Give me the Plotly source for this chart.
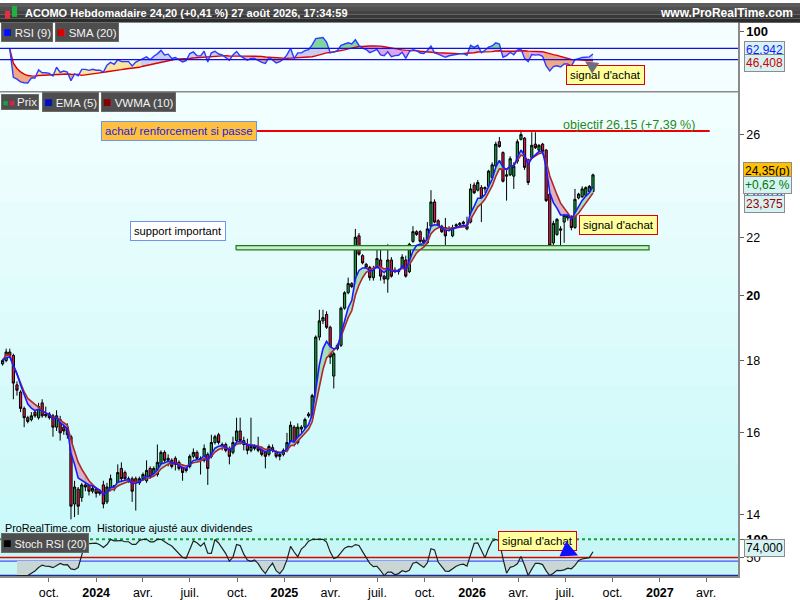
import numpy as np
import pandas as pd
import plotly.graph_objects as go

# ---------------- data (weekly candles, ACOMO) ----------------
start_week = "2023-07-03"
opens = [17.90, 18.00, 18.25, 18.15, 17.30, 17.10, 16.65, 16.40, 16.35, 16.55,
         16.40, 16.80, 16.50, 16.50, 16.45, 16.15, 16.35, 16.15, 16.15, 15.90,
         14.25, 14.60, 14.40, 14.65, 14.70, 14.55, 14.60, 14.55, 14.70, 14.30,
         14.60, 14.60, 14.70, 15.10, 15.00, 14.80, 14.85, 14.85, 14.75, 14.85,
         14.80, 15.10, 14.95, 14.95, 15.20, 15.50, 15.30, 15.30, 15.35, 15.25,
         15.15, 15.10, 15.15, 15.40, 15.50, 15.30, 15.30, 15.45, 15.40, 15.75,
         15.95, 15.65, 15.70, 15.60, 15.50, 15.80, 16.05, 15.80, 15.70, 15.55,
         15.60, 15.65, 15.60, 15.50, 15.45, 15.62, 15.50, 15.40, 15.45, 15.55,
         15.75, 16.15, 15.75, 16.10, 16.15, 16.50, 16.40, 17.00, 18.70, 19.20,
         19.40, 19.00, 17.55, 18.35, 18.45, 19.60, 20.10, 20.40, 20.40, 22.05,
         21.35, 21.05, 20.95, 20.60, 20.95, 21.20, 20.65, 20.55, 21.20, 20.85,
         20.80, 20.95, 21.20, 20.80, 21.85, 22.20, 22.20, 21.90, 21.80, 22.40,
         23.30, 22.60, 22.40, 22.35, 22.30, 22.05, 22.40, 22.45, 22.55, 22.30,
         22.55, 23.95, 23.75, 23.85, 23.80, 23.90, 24.25, 24.70, 25.70, 25.25,
         24.30, 24.35, 24.30, 24.90, 25.80, 25.85, 24.95, 25.05, 25.60, 25.35,
         25.60, 25.35, 23.60, 21.80, 22.10, 22.25, 22.55, 22.70, 22.75, 22.35,
         23.45, 23.50, 23.55, 23.70, 23.70]
highs = [18.05, 18.35, 18.35, 18.20, 17.40, 17.15, 16.70, 16.45, 16.55, 16.65,
         16.80, 16.90, 16.70, 16.55, 16.50, 16.60, 16.45, 16.25, 16.25, 15.95,
         14.80, 14.65, 14.75, 14.90, 14.75, 14.70, 14.65, 14.60, 14.80, 14.75,
         14.95, 14.70, 15.20, 15.25, 15.05, 14.90, 14.90, 14.90, 14.90, 15.00,
         15.30, 15.15, 15.15, 15.70, 15.55, 15.55, 15.45, 15.35, 15.40, 15.30,
         15.20, 15.15, 15.45, 15.60, 15.55, 15.40, 15.70, 15.50, 15.95, 15.95,
         16.00, 15.75, 15.75, 15.65, 15.90, 16.40, 16.40, 15.90, 15.85, 16.40,
         15.70, 15.90, 15.65, 15.55, 15.70, 15.70, 15.55, 15.50, 15.60, 16.00,
         16.30, 16.20, 16.25, 16.20, 16.40, 16.55, 17.05, 18.75, 19.55, 19.55,
         19.50, 19.05, 18.25, 18.50, 19.65, 20.15, 20.60, 20.45, 22.30, 22.15,
         21.40, 21.10, 21.00, 21.00, 21.60, 21.60, 20.70, 21.75, 21.30, 20.95,
         20.90, 21.40, 21.35, 21.80, 22.40, 22.25, 22.25, 22.00, 22.55, 23.75,
         23.40, 22.65, 22.45, 22.70, 22.40, 22.45, 22.50, 22.55, 22.60, 22.75,
         24.00, 24.05, 24.15, 23.95, 23.90, 24.55, 24.85, 25.70, 25.90, 25.30,
         24.60, 25.10, 24.85, 25.80, 26.20, 25.90, 25.00, 26.10, 26.10, 25.60,
         25.65, 25.40, 23.70, 22.60, 22.70, 22.40, 22.90, 22.85, 22.80, 23.80,
         23.65, 23.90, 23.90, 23.95, 24.40]
lows = [17.85, 17.95, 18.10, 16.90, 17.00, 16.55, 16.15, 16.25, 16.30, 16.40,
        16.35, 16.40, 16.40, 16.35, 15.90, 16.05, 15.80, 15.95, 15.85, 13.90,
        13.95, 14.00, 14.30, 14.55, 14.45, 14.50, 14.40, 14.45, 14.15, 14.25,
        14.55, 14.55, 14.65, 14.75, 14.80, 14.75, 14.30, 14.10, 14.70, 14.80,
        14.75, 14.85, 14.90, 14.90, 15.15, 15.25, 15.15, 15.10, 15.05, 15.05,
        14.80, 15.00, 15.10, 15.35, 15.25, 14.95, 15.25, 14.70, 15.35, 15.70,
        15.70, 15.55, 15.50, 15.20, 15.45, 15.75, 15.70, 15.55, 15.45, 15.50,
        15.55, 15.50, 15.40, 15.10, 15.40, 15.50, 15.35, 15.30, 15.40, 15.50,
        15.70, 15.65, 15.70, 16.00, 16.10, 16.40, 16.35, 16.95, 18.60, 19.10,
        18.95, 17.90, 17.20, 18.30, 18.40, 19.55, 20.05, 20.25, 20.35, 21.35,
        21.05, 20.90, 20.50, 20.50, 20.90, 20.50, 20.40, 20.10, 20.60, 20.75,
        20.70, 20.90, 20.60, 20.75, 21.80, 22.05, 21.80, 21.75, 21.75, 22.35,
        22.50, 22.35, 22.15, 21.70, 22.20, 22.00, 22.35, 22.40, 22.45, 22.25,
        22.50, 23.60, 23.70, 22.55, 23.65, 23.85, 24.20, 24.65, 25.45, 24.05,
        23.35, 24.30, 23.80, 24.80, 25.75, 24.55, 23.95, 25.00, 25.40, 25.30,
        25.25, 23.30, 21.60, 21.65, 22.05, 21.70, 21.80, 22.60, 22.25, 22.30,
        23.40, 23.45, 23.50, 23.60, 23.65]
closes = [18.00, 18.25, 18.15, 17.35, 17.15, 16.65, 16.40, 16.30, 16.45, 16.45,
          16.70, 16.45, 16.45, 16.40, 16.15, 16.45, 16.00, 16.05, 15.95, 14.20,
          14.65, 14.20, 14.70, 14.70, 14.55, 14.62, 14.50, 14.50, 14.25, 14.65,
          14.85, 14.68, 15.00, 14.85, 14.85, 14.85, 14.55, 14.75, 14.85, 14.95,
          15.05, 14.90, 15.10, 15.25, 15.50, 15.30, 15.35, 15.15, 15.20, 15.10,
          15.00, 15.05, 15.40, 15.50, 15.35, 15.35, 15.60, 15.10, 15.75, 15.90,
          15.75, 15.70, 15.55, 15.40, 15.75, 16.05, 15.80, 15.70, 15.55, 15.65,
          15.65, 15.55, 15.45, 15.40, 15.65, 15.55, 15.40, 15.45, 15.55, 15.75,
          16.20, 15.70, 16.15, 16.15, 16.35, 16.45, 17.00, 18.70, 19.20, 19.30,
          19.00, 18.10, 18.20, 18.45, 19.60, 20.10, 20.40, 20.30, 22.00, 21.40,
          21.10, 20.95, 20.60, 20.90, 21.25, 20.65, 20.55, 21.20, 20.65, 20.80,
          20.85, 21.30, 20.65, 21.75, 22.20, 22.10, 21.85, 21.80, 22.30, 23.30,
          22.55, 22.40, 22.20, 22.05, 22.25, 22.35, 22.45, 22.50, 22.50, 22.40,
          23.80, 23.65, 24.05, 23.45, 23.85, 24.50, 24.75, 25.60, 25.50, 24.10,
          24.35, 25.00, 24.70, 25.70, 26.00, 24.65, 24.05, 25.55, 25.45, 25.55,
          25.30, 23.35, 21.70, 22.50, 22.65, 22.30, 22.80, 22.80, 22.35, 23.40,
          23.60, 23.80, 23.85, 23.90, 24.35]

objective_level = 26.15
objective_span = ["2024-10-30", "2027-04-08"]
support_band = [21.55, 21.70]
support_span = ["2024-09-29", "2026-12-11"]
rsi_levels = [70, 50]
stoch_levels = [100, 50, 40, 0]
x_range = ["2023-06-28", "2027-06-02"]
tick_dates = ["2023-10-01", "2024-01-01", "2024-04-01", "2024-07-01", "2024-10-01",
              "2025-01-01", "2025-04-01", "2025-07-01", "2025-10-01", "2026-01-01",
              "2026-04-01", "2026-07-01", "2026-10-01", "2027-01-01", "2027-04-01"]
tick_text = ["oct.", "<b>2024</b>", "avr.", "juil.", "oct.", "<b>2025</b>", "avr.",
             "juil.", "oct.", "<b>2026</b>", "avr.", "juil.", "oct.", "<b>2027</b>", "avr."]
price_ticks = [14, 16, 18, 20, 22, 26]
price_tick_text = ["14", "16", "18", "<b>20</b>", "22", "26"]

n = min(len(opens), len(highs), len(lows), len(closes))
dates = pd.date_range(start_week, periods=n, freq="7D")
c = pd.Series(closes[:n], dtype=float)

# ---------------- indicators ----------------
ema5 = c.ewm(span=5, adjust=False).mean()
def wma(s, p):
    out = []
    for i in range(len(s)):
        w = s.iloc[max(0, i - p + 1):i + 1].values
        k = np.arange(1, len(w) + 1)
        out.append(float(np.dot(w, k) / k.sum()))
    return pd.Series(out)
wma10 = wma(c, 10)

def rsi(s, p):
    d = s.diff()
    g = d.clip(lower=0)
    l = -d.clip(upper=0)
    ag = g.ewm(alpha=1 / p, adjust=True, min_periods=1).mean()
    al = l.ewm(alpha=1 / p, adjust=True, min_periods=1).mean()
    r = 100 - 100 / (1 + ag / al.replace(0, np.nan))
    r[(al == 0) & (ag > 0)] = 100
    return r
rsi9 = rsi(c, 9)
rsi9.iloc[:2] = np.nan
sma20 = rsi9.rolling(20, min_periods=1).mean()

rsi20 = rsi(c, 14)
rsi20.iloc[:2] = np.nan
lo = rsi20.rolling(20, min_periods=3).min()
hi = rsi20.rolling(20, min_periods=3).max()
stoch = ((rsi20 - lo) / (hi - lo) * 100).rolling(2, min_periods=1).mean()

xn = (dates.values.astype("datetime64[ms]").astype("int64")).astype(float)

def to_date(v):
    return None if v is None else pd.to_datetime(v, unit="ms").strftime("%Y-%m-%d %H:%M")

def band_fill(a, b, colorfn, levels=()):
    a = np.asarray(a, float); b = np.asarray(b, float)
    polys = {}
    st = {"cur": None, "xs": [], "top": [], "bot": []}
    def flush():
        if st["cur"] is not None and len(st["xs"]) > 1:
            P = polys.setdefault(st["cur"], ([], []))
            P[0].extend([to_date(v) for v in st["xs"] + st["xs"][::-1]] + [None])
            P[1].extend(st["top"] + st["bot"][::-1] + [None])
        st["cur"] = None; st["xs"] = []; st["top"] = []; st["bot"] = []
    for i in range(len(a) - 1):
        a0, a1, b0, b1 = a[i], a[i + 1], b[i], b[i + 1]
        if np.isnan([a0, a1, b0, b1]).any():
            flush(); continue
        ts = [0.0, 1.0]
        d0, d1 = a0 - b0, a1 - b1
        if d0 * d1 < 0:
            ts.append(d0 / (d0 - d1))
        for L in levels:
            e0, e1 = a0 - L, a1 - L
            if e0 * e1 < 0:
                ts.append(e0 / (e0 - e1))
        ts = sorted(ts)
        for t0, t1 in zip(ts[:-1], ts[1:]):
            if t1 - t0 < 1e-9:
                continue
            tm = (t0 + t1) / 2
            col = colorfn(a0 + (a1 - a0) * tm, b0 + (b1 - b0) * tm)
            p0 = (xn[i] + (xn[i + 1] - xn[i]) * t0, a0 + (a1 - a0) * t0, b0 + (b1 - b0) * t0)
            p1 = (xn[i] + (xn[i + 1] - xn[i]) * t1, a0 + (a1 - a0) * t1, b0 + (b1 - b0) * t1)
            if col != st["cur"]:
                flush()
                st["cur"] = col
                st["xs"] = [p0[0]]; st["top"] = [p0[1]]; st["bot"] = [p0[2]]
            st["xs"].append(p1[0]); st["top"].append(p1[1]); st["bot"].append(p1[2])
    flush()
    return polys

fig = go.Figure()

def add_polys(polys, xa, ya):
    for col, (xs, ys) in polys.items():
        fig.add_trace(go.Scatter(x=xs, y=ys, mode="lines", fill="toself", fillcolor=col,
                                 line=dict(width=0), hoverinfo="skip", showlegend=False,
                                 xaxis=xa, yaxis=ya))

# ---- main panel ----
add_polys(band_fill(ema5.values, wma10.values,
                    lambda e, w: "rgba(160,218,182,0.9)" if e > w else "rgba(218,168,186,0.9)"),
          "x", "y")
fig.add_trace(go.Scatter(x=[support_span[0], support_span[1], support_span[1], support_span[0], support_span[0]],
                         y=[support_band[0], support_band[0], support_band[1], support_band[1], support_band[0]],
                         mode="lines", fill="toself", fillcolor="#c8f0c8",
                         line=dict(color="#1f7a1f", width=1.2), hoverinfo="skip", showlegend=False,
                         xaxis="x", yaxis="y"))
fig.add_trace(go.Scatter(x=objective_span, y=[objective_level] * 2, mode="lines",
                         line=dict(color="#ee0000", width=2), hoverinfo="skip", showlegend=False,
                         xaxis="x", yaxis="y"))
fig.add_trace(go.Scatter(x=dates, y=wma10, mode="lines", line=dict(color="#b02828", width=1.6),
                         hoverinfo="skip", showlegend=False, xaxis="x", yaxis="y"))
fig.add_trace(go.Scatter(x=dates, y=ema5, mode="lines", line=dict(color="#1a1aff", width=1.6),
                         hoverinfo="skip", showlegend=False, xaxis="x", yaxis="y"))
fig.add_trace(go.Candlestick(x=dates, open=opens[:n], high=highs[:n], low=lows[:n], close=closes[:n],
                             increasing=dict(line=dict(color="#000000", width=1), fillcolor="#14a043"),
                             decreasing=dict(line=dict(color="#000000", width=1), fillcolor="#e3174a"),
                             whiskerwidth=0, showlegend=False, hoverinfo="skip",
                             xaxis="x", yaxis="y"))

# ---- RSI panel ----
def rsi_col(r, s):
    if r > s:
        return "#c9cdf0" if r >= 50 else "#fbe3a0"
    return "#e2a4e2" if r >= 50 else "#efa983"
add_polys(band_fill(rsi9.values, sma20.values, rsi_col, levels=(50,)), "x2", "y2")
add_polys(band_fill(rsi9.values, np.full(n, 70.0),
                    lambda r, L: "#7fd4a0" if r > L else None), "x2", "y2")
fig.add_trace(go.Scatter(x=dates, y=sma20, mode="lines", line=dict(color="#dd0000", width=1.4),
                         hoverinfo="skip", showlegend=False, xaxis="x2", yaxis="y2"))
fig.add_trace(go.Scatter(x=dates, y=rsi9, mode="lines", line=dict(color="#2a3cff", width=1.4),
                         hoverinfo="skip", showlegend=False, xaxis="x2", yaxis="y2"))

# ---- Stoch RSI panel ----
add_polys(band_fill(stoch.values, np.full(n, 40.0),
                    lambda s, L: "#c9d6d6" if s < L else None), "x3", "y3")
fig.add_trace(go.Scatter(x=dates, y=stoch, mode="lines", line=dict(color="#202020", width=1.2),
                         hoverinfo="skip", showlegend=False, xaxis="x3", yaxis="y3"))

# ---------------- layout helpers ----------------
W, H = 800, 600
PX = lambda x: x / W
PY = lambda y: 1 - y / H
XR = 738 / W
FONT = "Liberation Sans, Arial, sans-serif"

shapes = []
def rect(x0, y0, x1, y1, fill, line=None, layer="below"):
    shapes.append(dict(type="rect", xref="paper", yref="paper", x0=PX(x0), x1=PX(x1),
                       y0=PY(y1), y1=PY(y0), fillcolor=fill,
                       line=dict(width=0) if line is None else dict(color=line, width=1), layer=layer))

# header gradient
for k in range(5):
    v = int(92 - k * 12)
    rect(0, k * 4, 800, k * 4 + 4, f"rgb({v},{v},{v})")
# panel backgrounds
rect(0, 20, 738, 90, "#f4fdff")
nb = 12
for k in range(nb):
    f = k / (nb - 1)
    r_ = int(242 - 38 * f); g_ = int(255 - 6 * f); b_ = int(255 - 6 * f)
    y0 = 90 + k * (537 - 90) / nb
    rect(0, y0, 738, y0 + (537 - 90) / nb + 0.6, f"rgb({r_},{g_},{b_})")
rect(0, 537, 738, 580, "#c7f6f6")
# logo
rect(5, 8, 10, 16, "#e03040", layer="above")
rect(12, 3, 17, 14, "#20b040", layer="above")
# separators
shapes.append(dict(type="line", xref="paper", yref="paper", x0=0, x1=XR, y0=PY(90), y1=PY(90),
                   line=dict(color="#8a8a8a", width=1.5)))
# RSI levels
for L in rsi_levels:
    shapes.append(dict(type="line", xref="paper", yref="y2", x0=0, x1=XR, y0=L, y1=L,
                       line=dict(color="#1010e0", width=1.2), layer="above"))
# Stoch levels
stoch_styles = {100: dict(color="#10a030", width=2, dash="dot"), 50: dict(color="#e00000", width=1.5),
                40: dict(color="#4a4aff", width=1.2), 0: dict(color="#1a2aa0", width=1.6)}
for L in stoch_levels:
    shapes.append(dict(type="line", xref="paper", yref="y3", x0=0, x1=XR, y0=L, y1=L,
                       line=stoch_styles[L], layer="below"))

ann = []
def label(text, x, y, color="black", size=12, bg=None, border=None, anchor="left", pad=2, bold=False):
    t = f"<b>{text}</b>" if bold else text
    d = dict(xref="paper", yref="paper", x=PX(x), y=PY(y), xanchor=anchor, yanchor="middle",
             text=t, showarrow=False, font=dict(family=FONT, size=size, color=color), borderpad=pad)
    if bg: d["bgcolor"] = bg
    if border: d.update(bordercolor=border, borderwidth=1)
    ann.append(d)

label("ACOMO Hebdomadaire 24,20 (+0,41 %) 27 août 2026, 17:34:59", 22, 10, "white", 11, bold=True)
label("www.ProRealTime.com", 796, 10, "white", 12, anchor="right", bold=True)

def sq(col, size=14):
    return f"<span style='color:{col};font-size:{size}px'>■</span>"
LEG_BG, LEG_FG = "#4e4e4e", "#f2f2f2"
label(sq("#0010ff") + " RSI (9)", 1, 29, LEG_FG, 11.5, LEG_BG, "#6a6a6a", pad=1)
label(sq("#dd0000") + " SMA (20)", 55, 29, LEG_FG, 11.5, LEG_BG, "#6a6a6a", pad=1)
label("<span style='color:#14a043;font-size:9px'>■</span><span style='color:#e3174a;font-size:9px'>■</span> Prix",
      1, 100, LEG_FG, 11.5, LEG_BG, "#6a6a6a", pad=1)
label(sq("#0010c0") + " EMA (5)", 42, 100, LEG_FG, 11.5, LEG_BG, "#6a6a6a", pad=1)
label(sq("#8a0000") + " VWMA (10)", 101, 100, LEG_FG, 11.5, LEG_BG, "#6a6a6a", pad=1)
label(sq("#000000") + " Stoch RSI (20)", 1, 547, LEG_FG, 11, LEG_BG, "#6a6a6a", pad=1)

label("ProRealTime.com  Historique ajusté aux dividendes", 2, 532, "black", 10.8)
label("achat/ renforcement si passe", 101, 129.5, "#2020dd", 11.5, "#ffc040", "#6b93f0", pad=3)
label("support important", 130, 231.5, "black", 11.2, "#ffffff", "#6b93f0", pad=3)
label("objectif 26,15 (+7,39 %)", 629, 124, "#1e8a1e", 12.5, anchor="center")

# right side value boxes
VB = "#d6f3f3"
label("62,942", 744, 48, "#1a1aff", 12, VB, "#8c8c8c", pad=1)
label("46,408", 744, 61, "#cc0000", 12, VB, "#8c8c8c", pad=1)
label("23,675", 744, 192, "#1a1aff", 12, VB, "#8c8c8c", pad=1)
label("23,375", 744, 204, "#a00000", 12, VB, "#8c8c8c", pad=1)
label("24,35(p)", 743, 170, "black", 12, "#ffc000", "#8c8c8c", pad=1)
label("+0,62 %", 743, 184, "#007a00", 12, VB, "#8c8c8c", pad=1)
label("74,000", 744, 552, "black", 12, VB, "#8c8c8c", pad=1)

def signal(xb, yb, xt, yt):
    ann.append(dict(xref="paper", yref="paper", x=PX(xt), y=PY(yt), ax=xb - xt, ay=yb - yt,
                    text="signal d'achat", showarrow=True, arrowhead=2, arrowsize=1.6, arrowwidth=1.6,
                    arrowcolor="#6e6e80", font=dict(family=FONT, size=11.5, color="black"),
                    bgcolor="#ffff9c", bordercolor="#e00000", borderwidth=1, borderpad=3))
signal(605, 72.5, 585, 59)
signal(618, 224.5, 583, 216)
signal(537, 545, 577, 559)
ann.append(dict(xref="paper", yref="paper", x=PX(578), y=PY(560), ax=-9, ay=-4, text="",
                showarrow=True, arrowhead=2, arrowsize=2.2, arrowwidth=1.5, arrowcolor="#1010ff"))

common_x = dict(type="date", range=x_range, showgrid=False, zeroline=False, domain=[0, XR],
                fixedrange=True)
fig.update_layout(
    width=W, height=H, margin=dict(l=0, r=0, t=0, b=0), boxgap=0.12,
    paper_bgcolor="white", plot_bgcolor="rgba(0,0,0,0)", showlegend=False, hovermode=False,
    font=dict(family=FONT, size=12, color="black"),
    xaxis=dict(**common_x, anchor="y", showticklabels=False, rangeslider=dict(visible=False)),
    xaxis2=dict(**common_x, anchor="y2", matches="x", showticklabels=False),
    xaxis3=dict(**common_x, anchor="y3", matches="x", tickvals=tick_dates, ticktext=tick_text,
                ticks="outside", ticklen=4, tickcolor="#707070", showline=True,
                linecolor="#8a8a8a", linewidth=1.5, tickfont=dict(size=12.5, color="black")),
    yaxis=dict(domain=[PY(541), PY(90)], type="log", range=[1.13065, 1.44523], side="right",
               anchor="x", tickvals=price_ticks, ticktext=price_tick_text, ticks="outside",
               ticklen=4, tickcolor="#606060", showgrid=False, zeroline=False, showline=True,
               linecolor="#8a8a8a", linewidth=1.5, tickfont=dict(size=12.5, color="black")),
    yaxis2=dict(domain=[PY(90), PY(20)], range=[-7.6, 115.9], side="right", anchor="x2",
                tickvals=[100], ticktext=["<b>100</b>"], ticks="outside", ticklen=4,
                tickcolor="#606060", showgrid=False, zeroline=False, showline=True,
                linecolor="#8a8a8a", linewidth=1.5, tickfont=dict(size=13, color="black")),
    yaxis3=dict(domain=[PY(581), PY(539)], range=[-1.9, 112.5], side="right", anchor="x3",
                tickvals=[50, 100], ticktext=["50", "<b>100</b>"], ticks="outside", ticklen=4,
                tickcolor="#606060", showgrid=False, zeroline=False, showline=True,
                linecolor="#8a8a8a", linewidth=1.5, tickfont=dict(size=13, color="black")),
    shapes=shapes, annotations=ann,
)

fig.write_html("out.html", config={"displayModeBar": False},
               post_script="document.body.style.margin='0px';document.body.style.overflow='hidden';")
